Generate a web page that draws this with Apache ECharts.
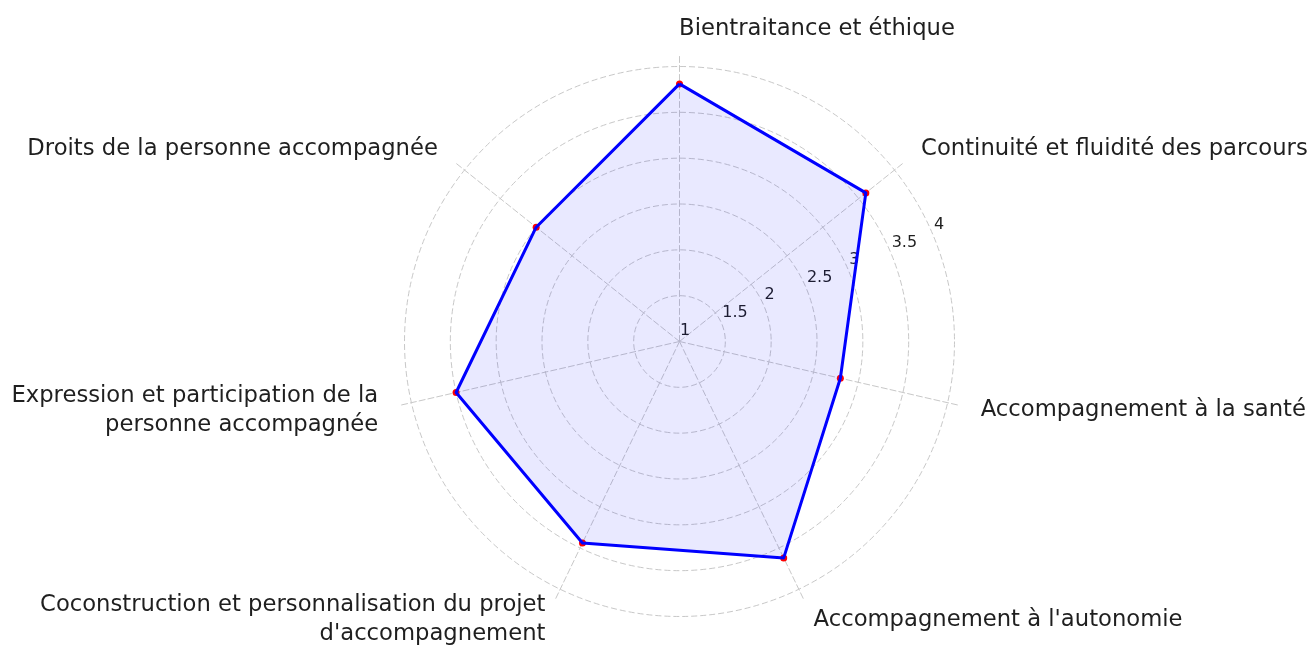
<!DOCTYPE html>
<html>
<head>
<meta charset="utf-8">
<script src="https://cdn.jsdelivr.net/npm/echarts@6/dist/echarts.min.js"></script>
<style>
html,body{margin:0;padding:0;background:#fff;}
#chart{width:1310px;height:646px;}
</style>
</head>
<body>
<div id="chart"></div>
<script>
// Categories in clockwise order starting at the top
const categories = [
  "Bientraitance et éthique",
  "Continuité et fluidité des parcours",
  "Accompagnement à la santé",
  "Accompagnement à l'autonomie",
  "Coconstruction et personnalisation du projet\nd'accompagnement",
  "Expression et participation de la\npersonne accompagnée",
  "Droits de la personne accompagnée"
];
const scores = [3.81, 3.6, 2.8, 3.62, 3.44, 3.5, 3.0];
const tickMin = 1;
const tickMax = 4;
const tickStep = 0.5;

// layout constants (styling, not data)
const CX = 679.5, CY = 341.5;
const R_GRID = 275;          // radius of the value-4 circle
const R_AXIS = 286;          // spokes extend a little beyond the outer circle
const axisMaxValue = tickMin + (tickMax - tickMin) * R_AXIS / R_GRID;

// ECharts radar places indicators counter-clockwise: reorder
const order = [0].concat(categories.map((_, i) => i).slice(1).reverse());
const indicators = order.map(i => ({ name: categories[i], min: tickMin, max: axisMaxValue }));
const values = order.map(i => scores[i]);

const gridColor = '#c8c8c8';
const textColor = '#1f1f1f';
const font = 'DejaVu Sans';
const nameSize = 22.7;

const chart = echarts.init(document.getElementById('chart'), null, { renderer: 'canvas' });
chart.setOption({
  backgroundColor: '#ffffff',
  animation: false,
  polar: { center: [CX, CY], radius: R_GRID },
  angleAxis: { show: false, type: 'value', startAngle: 22.5, min: 0, max: 360 },
  radiusAxis: {
    type: 'value', min: tickMin, max: tickMax, interval: tickStep,
    axisLine: { show: false }, axisTick: { show: false },
    splitLine: { show: true, lineStyle: { color: gridColor, type: [6, 3], width: 1 } },
    axisLabel: {
      show: true, color: textColor, fontFamily: font, fontSize: 16,
      margin: 12, align: 'left', verticalAlign: 'middle', padding: [0, 0, 0, 5],
      formatter: v => String(v)
    },
    z: 1
  },
  radar: {
    center: [CX, CY],
    radius: R_AXIS,
    startAngle: 90,
    shape: 'circle',
    indicator: indicators,
    splitNumber: 1,
    splitLine: { show: false },
    splitArea: { show: false },
    axisLine: { show: true, lineStyle: { color: gridColor, type: [6, 3], width: 1 } },
    axisTick: { show: false },
    axisLabel: { show: false },
    nameGap: 23,
    axisName: {
      color: textColor, fontFamily: font, fontSize: nameSize, lineHeight: 29,
      formatter: function (name) {
        if (name === categories[0]) return '{top|' + name + '}';
        return name;
      },
      rich: {
        top: { fontFamily: font, fontSize: nameSize, color: textColor, lineHeight: 6, padding: [0, 0, 0, 275] }
      }
    }
  },
  series: [{
    type: 'radar',
    z: 4,
    symbol: 'circle',
    symbolSize: 7,
    itemStyle: { color: '#ff0000' },
    lineStyle: { opacity: 0 },
    data: [{ value: values, name: 'Points' }]
  }, {
    type: 'radar',
    z: 5,
    symbol: 'none',
    lineStyle: { color: '#0000ff', width: 3 },
    areaStyle: { color: 'rgba(0,0,255,0.12)' },
    data: [{ value: values, name: 'Score' }]
  }]
});
</script>
</body>
</html>
